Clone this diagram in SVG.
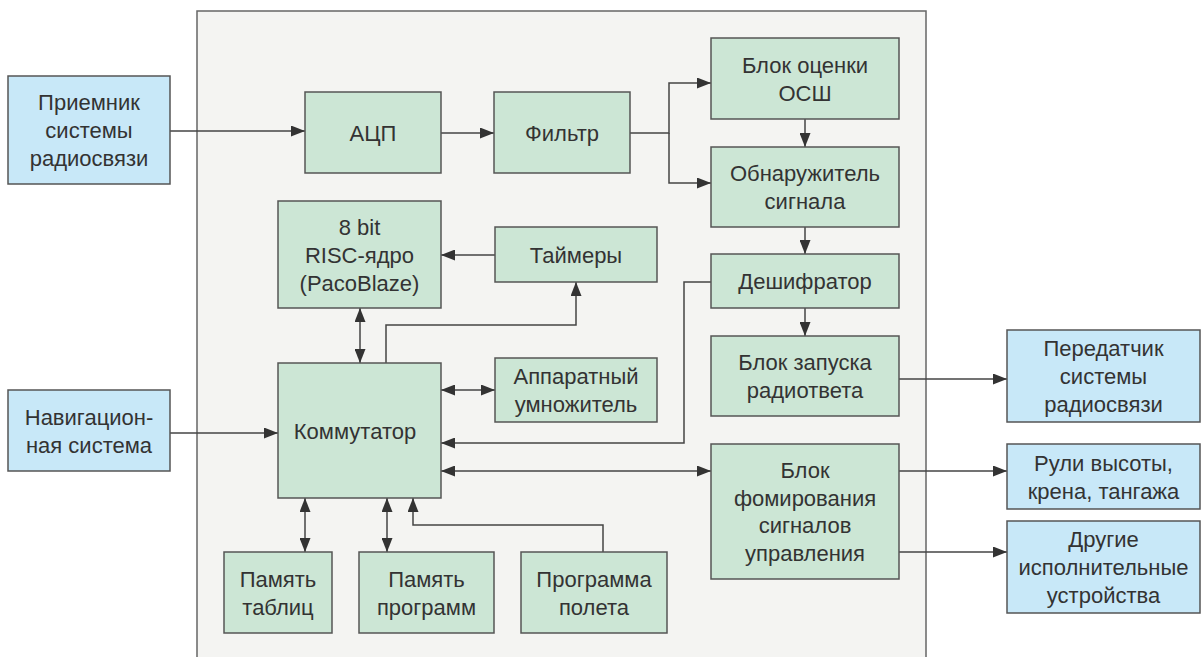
<svg xmlns="http://www.w3.org/2000/svg" width="1203" height="657" viewBox="0 0 1203 657">
<style>
.g rect{fill:#cce6d5;stroke:#555;stroke-width:1.5}
.b rect{fill:#c8e8f8;stroke:#555;stroke-width:1.5}
text{font-family:"Liberation Sans",Arial,sans-serif;font-size:22px;fill:#333;text-anchor:middle}
#connectors path{fill:none;stroke:#444;stroke-width:1.5}
</style>
<defs>
<marker id="ah" viewBox="0 0 14 11" refX="14" refY="5.5" markerWidth="14" markerHeight="11" markerUnits="userSpaceOnUse" orient="auto-start-reverse">
<path d="M0,0 L14,5.5 L0,11 z" fill="#333"/>
</marker>
</defs>
<rect width="1203" height="657" fill="#fff"/>
<rect id="frame" x="197" y="11" width="729" height="660" fill="#f4f4f2" stroke="#666" stroke-width="1.5"/>

<g id="connectors">
<path d="M170,131 H305" marker-end="url(#ah)"/>
<path d="M441,133 H494" marker-end="url(#ah)"/>
<path d="M630,133 H669 V83 H711" marker-end="url(#ah)"/>
<path d="M669,133 V183 H711" marker-end="url(#ah)"/>
<path d="M805,119 V147" marker-end="url(#ah)"/>
<path d="M805,227 V254" marker-end="url(#ah)"/>
<path d="M805,308 V336" marker-end="url(#ah)"/>
<path d="M899,379 H1007" marker-end="url(#ah)"/>
<path d="M495,255 H441" marker-end="url(#ah)"/>
<path d="M360,308 V363" marker-start="url(#ah)" marker-end="url(#ah)"/>
<path d="M386,363 V325 H576 V282" marker-end="url(#ah)"/>
<path d="M441,390 H495" marker-start="url(#ah)" marker-end="url(#ah)"/>
<path d="M711,282 H684 V443 H441" marker-end="url(#ah)"/>
<path d="M170,433 H278" marker-end="url(#ah)"/>
<path d="M441,471 H711" marker-start="url(#ah)" marker-end="url(#ah)"/>
<path d="M899,471 H1007" marker-end="url(#ah)"/>
<path d="M899,552 H1007" marker-end="url(#ah)"/>
<path d="M305,498 V552" marker-start="url(#ah)" marker-end="url(#ah)"/>
<path d="M387,498 V552" marker-start="url(#ah)" marker-end="url(#ah)"/>
<path d="M603,552 V525 H413 V498" marker-end="url(#ah)"/>
</g>

<g id="recv" class="b"><rect x="8" y="76" width="162" height="108"/>
<text x="89" y="110">Приемник</text><text x="89" y="138">системы</text><text x="89" y="166">радиосвязи</text></g>
<g id="nav" class="b"><rect x="8" y="390" width="162" height="81"/>
<text x="89" y="424.5">Навигацион-</text><text x="89" y="452.5">ная система</text></g>
<g id="adc" class="g"><rect x="305" y="92" width="136" height="81"/>
<text x="373" y="140.5">АЦП</text></g>
<g id="filter" class="g"><rect x="494" y="92" width="136" height="81"/>
<text x="562" y="140.5">Фильтр</text></g>
<g id="snr" class="g"><rect x="711" y="38" width="188" height="81"/>
<text x="805" y="72.5">Блок оценки</text><text x="805" y="100.5">ОСШ</text></g>
<g id="detector" class="g"><rect x="711" y="147" width="188" height="80"/>
<text x="805" y="181">Обнаружитель</text><text x="805" y="209">сигнала</text></g>
<g id="cpu" class="g"><rect x="278" y="201" width="163" height="107"/>
<text x="359.5" y="234.5">8 bit</text><text x="359.5" y="262.5">RISC-ядро</text><text x="359.5" y="290.5">(PacoBlaze)</text></g>
<g id="timers" class="g"><rect x="495" y="227" width="162" height="55"/>
<text x="576" y="262.5">Таймеры</text></g>
<g id="decoder" class="g"><rect x="711" y="254" width="188" height="54"/>
<text x="805" y="289">Дешифратор</text></g>
<g id="launch" class="g"><rect x="711" y="336" width="188" height="80"/>
<text x="805" y="370">Блок запуска</text><text x="805" y="398">радиответа</text></g>
<g id="mult" class="g"><rect x="495" y="358" width="162" height="64"/>
<text x="576" y="384">Аппаратный</text><text x="576" y="412">умножитель</text></g>
<g id="comm" class="g"><rect x="278" y="363" width="163" height="135"/>
<text x="355" y="438.5">Коммутатор</text></g>
<g id="ctrl" class="g"><rect x="711" y="444" width="188" height="135"/>
<text x="805" y="478">Блок</text><text x="805" y="505.5">фомирования</text><text x="805" y="533">сигналов</text><text x="805" y="560.5">управления</text></g>
<g id="memt" class="g"><rect x="224" y="552" width="108" height="81"/>
<text x="278" y="586.5">Память</text><text x="278" y="614.5">таблиц</text></g>
<g id="memp" class="g"><rect x="359" y="552" width="135" height="81"/>
<text x="426.5" y="586.5">Память</text><text x="426.5" y="614.5">программ</text></g>
<g id="prog" class="g"><rect x="521" y="552" width="146" height="81"/>
<text x="594" y="586.5">Программа</text><text x="594" y="614.5">полета</text></g>
<g id="tx" class="b"><rect x="1007" y="330" width="193" height="92"/>
<text x="1103.5" y="356">Передатчик</text><text x="1103.5" y="384">системы</text><text x="1103.5" y="412">радиосвязи</text></g>
<g id="rudders" class="b"><rect x="1007" y="444" width="193" height="65"/>
<text x="1103.5" y="470.5">Рули высоты,</text><text x="1103.5" y="498.5">крена, тангажа</text></g>
<g id="other" class="b"><rect x="1007" y="521" width="193" height="92"/>
<text x="1103.5" y="547">Другие</text><text x="1103.5" y="575">исполнительные</text><text x="1103.5" y="603">устройства</text></g>
</svg>
